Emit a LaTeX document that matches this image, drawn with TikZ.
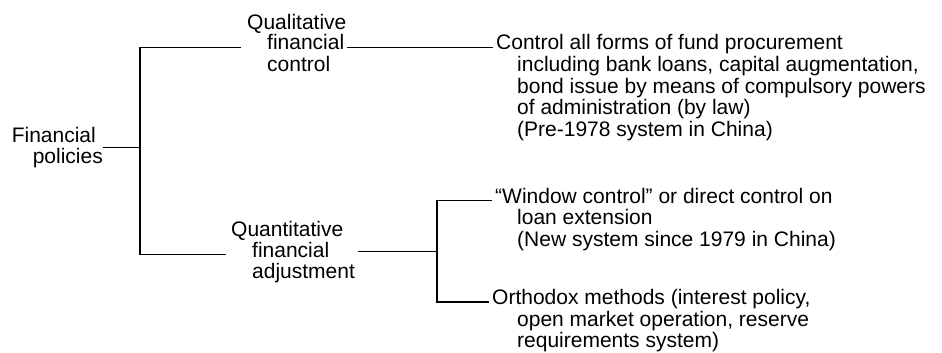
\documentclass[tikz,border=0pt]{standalone}
\usepackage{fontspec}
\setmainfont{Liberation Sans}
\begin{document}
\begin{tikzpicture}[x=1pt,y=-1pt,
  lbl/.style={font=\fontsize{21}{21.5}\selectfont, align=left, inner ysep=0pt},
  txt/.style={font=\fontsize{21}{21.5}\selectfont, inner xsep=3pt, inner ysep=0pt, anchor=base west},
  conn/.style={line width=1.6pt}]
\useasboundingbox[fill=white] (0,0) rectangle (942,353);
% left level
\node[lbl, inner xsep=0pt, anchor=east] (fp) at (103,147.5) {Financial\\\hspace*{21pt}policies};
\coordinate (ja) at (140,147.5);
% middle level
\node[txt, inner xsep=6pt] (q1) at (241,29.5) {Qualitative};
\node[txt] (q2) at (264,50) {financial};
\node[txt] (q3) at (264,71.5) {control};
\node[txt, inner xsep=5pt] (qn1) at (226,236) {Quantitative};
\node[txt] (qn2) at (249,257) {financial};
\node[txt] (qn3) at (249,278.5) {adjustment};
\coordinate (jr) at (437,251.5);
% right level
\node[txt] (c1) at (493,50) {Control all forms of fund procurement};
\node[txt] (c2) at (514,71.5) {including bank loans, capital augmentation,};
\node[txt] (c3) at (514,93) {bond issue by means of compulsory powers};
\node[txt] (c4) at (514,114.5) {of administration (by law)};
\node[txt] (c5) at (514,136) {(Pre-1978 system in China)};
\node[txt] (w1) at (492,203) {“Window control” or direct control on};
\node[txt] (w2) at (514,224.5) {loan extension};
\node[txt] (w3) at (514,246) {(New system since 1979 in China)};
\node[txt] (o1) at (489,304.5) {Orthodox methods (interest policy,};
\node[txt] (o2) at (514,326) {open market operation, reserve};
\node[txt] (o3) at (514,347.5) {requirements system)};
% connectors
\draw[conn] (fp.east) -- (ja);
\draw[conn] (q1.west |- q2.mid) -| (ja) |- (qn1.west |- qn2.mid);
\draw[conn] (q2.mid east) -- (q2.mid east -| c1.west);
\draw[conn] (qn3.east |- jr) -- (jr);
\draw[conn] (w1.west |- w1.mid) -| (jr) |- (o1.west |- o1.mid);
\end{tikzpicture}
\end{document}
